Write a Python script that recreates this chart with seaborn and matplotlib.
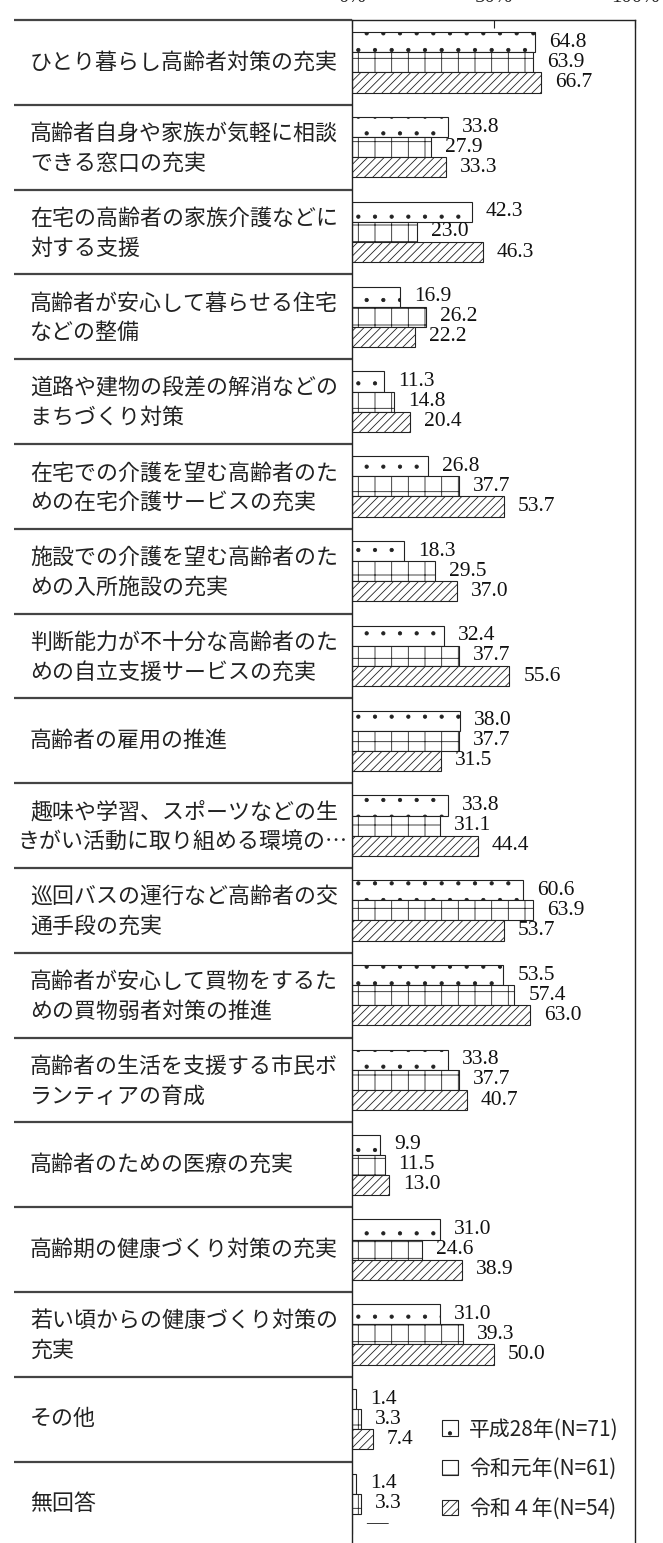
import numpy as np
import pandas as pd
import matplotlib
matplotlib.use('Agg')
import matplotlib.pyplot as plt
import seaborn as sns
from matplotlib.transforms import blended_transform_factory

# --- data ---
items = [
    'ひとり暮らし高齢者対策の充実',
    '高齢者自身や家族が気軽に相談\nできる窓口の充実',
    '在宅の高齢者の家族介護などに\n対する支援',
    '高齢者が安心して暮らせる住宅\nなどの整備',
    '道路や建物の段差の解消などの\nまちづくり対策',
    '在宅での介護を望む高齢者のた\nめの在宅介護サービスの充実',
    '施設での介護を望む高齢者のた\nめの入所施設の充実',
    '判断能力が不十分な高齢者のた\nめの自立支援サービスの充実',
    '高齢者の雇用の推進',
    '趣味や学習、スポーツなどの生\nきがい活動に取り組める環境の…',
    '巡回バスの運行など高齢者の交\n通手段の充実',
    '高齢者が安心して買物をするた\nめの買物弱者対策の推進',
    '高齢者の生活を支援する市民ボ\nランティアの育成',
    '高齢者のための医療の充実',
    '高齢期の健康づくり対策の充実',
    '若い頃からの健康づくり対策の\n充実',
    'その他',
    '無回答',
]
heisei28 = [64.8, 33.8, 42.3, 16.9, 11.3, 26.8, 18.3, 32.4, 38.0, 33.8, 60.6, 53.5, 33.8, 9.9, 31.0, 31.0, 1.4, 1.4]
reiwa1 = [63.9, 27.9, 23.0, 26.2, 14.8, 37.7, 29.5, 37.7, 37.7, 31.1, 63.9, 57.4, 37.7, 11.5, 24.6, 39.3, 3.3, 3.3]
reiwa4 = [66.7, 33.3, 46.3, 22.2, 20.4, 53.7, 37.0, 55.6, 31.5, 44.4, 53.7, 63.0, 40.7, 13.0, 38.9, 50.0, 7.4, 0.0]
years = ['平成28年(N=71)', '令和元年(N=61)', '令和４年(N=54)']
x_ticks = [0, 50, 100]
x_ticklabels = ['0%', '50%', '100%']

df = pd.DataFrame({
    'item': items * 3,
    'year': np.repeat(years, len(items)),
    'value': heisei28 + reiwa1 + reiwa4,
})

sns.set_style('white')
plt.rcParams['font.family'] = ['Noto Sans CJK JP', 'DejaVu Sans']
plt.rcParams['hatch.linewidth'] = 0.6

W, H = 663, 1543
fig = plt.figure(figsize=(W / 100, H / 100), dpi=100)
ax_left, ax_right, ax_top = 352, 635, 20
row_h = 84.8
ax_bottom = ax_top + row_h * len(items)
ax = fig.add_axes([ax_left / W, 1 - ax_bottom / H, (ax_right - ax_left) / W, (ax_bottom - ax_top) / H])

sns.barplot(data=df, x='value', y='item', hue='year', orient='h', ax=ax,
            palette=['white'] * 3, edgecolor='#222222', linewidth=0.8,
            width=0.71, errorbar=None, legend=False, saturation=1)

hatches = ['.', '+', '////']
series = [heisei28, reiwa1, reiwa4]
for cont, h, vals in zip(ax.containers, hatches, series):
    for bar in cont:
        bar.set_hatch(h)
    labels = [f'{v:.1f}' if v > 0 else '—' for v in vals]
    ax.bar_label(cont, labels=labels, padding=10, fontsize=15.5,
                 family='Liberation Serif', color='#111111')

ax.set_xlim(0, 100)
ax.set_ylim(len(items) - 0.5, -0.5)
ax.xaxis.tick_top()
ax.set_xticks(x_ticks)
ax.set_xticklabels(x_ticklabels, family='Liberation Serif', fontsize=15)
ax.tick_params(axis='x', direction='in', length=6, width=0.8, pad=9, color='#222222')
ax.tick_params(axis='y', length=0)
ax.set_yticklabels([])
ax.set_xlabel('')
ax.set_ylabel('')
for sp in ax.spines.values():
    sp.set_color('#222222')
    sp.set_linewidth(1.0)

# category labels and separator lines on the left
tr = blended_transform_factory(ax.transAxes, ax.transData)
px = 1 / (ax_right - ax_left)
text_x = (30 - ax_left) * px
line_x0 = (14 - ax_left) * px
for i, label in enumerate(items):
    ax.plot([line_x0, 0], [i - 0.5, i - 0.5], transform=tr, color='#444444',
            lw=1.6, clip_on=False, solid_capstyle='butt')
    lines = label.split('\n')
    if len(lines) == 1:
        offs = [0.0]
    else:
        offs = [-0.155, 0.195]
    for ln, off in zip(lines, offs):
        if len(ln) > 14:
            ax.text(-4 * px, i + off, ln, transform=tr, ha='right', va='center',
                    fontsize=15.8, color='#222222')
        else:
            ax.text(text_x, i + off, ln, transform=tr, ha='left', va='center',
                    fontsize=15.8, color='#222222')

leg = ax.legend(handles=ax.containers, labels=years, loc='center left',
                bbox_to_anchor=((442 - 8) / W, 1 - 1469 / H), bbox_transform=fig.transFigure,
                frameon=False, fontsize=15, handlelength=0.75, handleheight=0.75,
                handletextpad=0.55, labelspacing=0.85, borderpad=0.4, borderaxespad=0)
for t in leg.get_texts():
    t.set_color('#222222')

fig.savefig('out.png', dpi=100)
